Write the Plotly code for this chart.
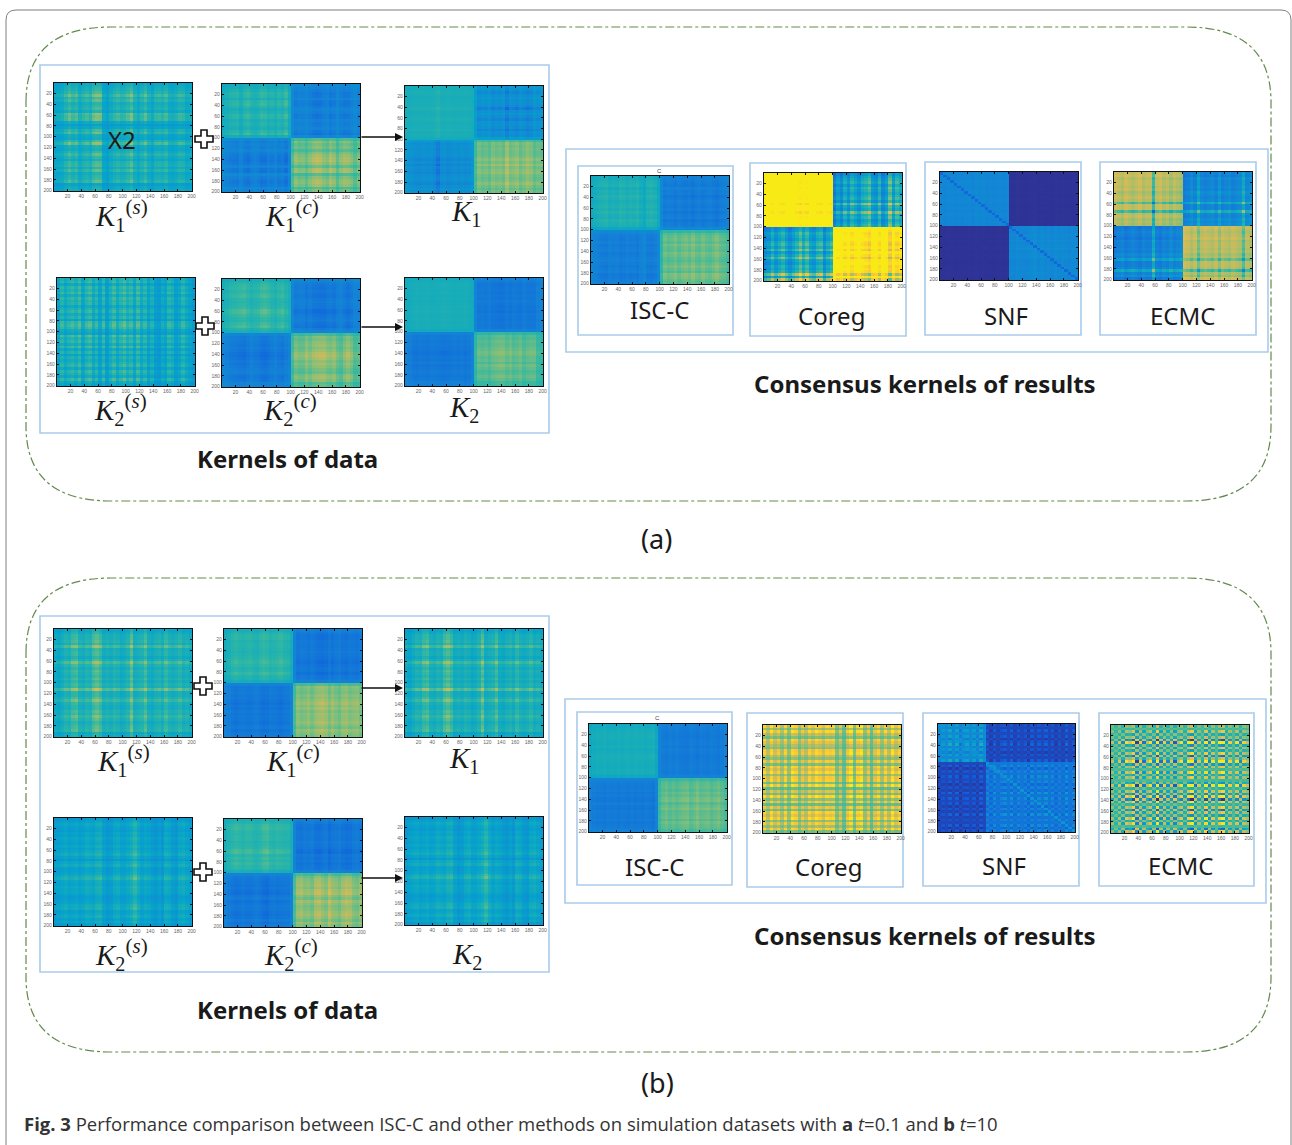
import plotly.graph_objects as go

W, H = 1292, 1145
SAMPLES = list(range(3, 200, 5))
TICKS = list(range(20, 201, 20))
PARULA = ["#352a87", "#0f5cdd", "#1481d6", "#06a4ca", "#2eb7a4", "#87bf77", "#d1bb59", "#fec832", "#f8ea14"]

# stripe readings, tenths, one value per 5 samples
A_K1S_ROW = [-2,0,1,3,8,2,5,0,1,3, -1,8,6,7,-2,-6,-3,3,6,-2, -3,3,9,-1,-2,1,5,1,-2,3, 4,0,5,-1,1,2,5,-5,-2,-1]
A_K1S_COL = [-3,-2,-1,3,7,3,5,-1,2,4, 1,7,9,8,-3,-5,-1,2,4,1, 2,5,9,1,-2,2,6,0,-3,2, 3,1,4,-1,-2,0,3,2,-2,-1]
A_K1C_ROW = [-3,-2,0,3,2,-2,3,4,1,-2, 0,4,3,-1,1,0,-2,2,5,-3, -3,3,0,2,-2,2,5,7,8,5, -1,6,7,-3,2,5,6,4,-3,1]
A_K1C_COL = [-3,-1,1,2,3,-2,3,5,1,-1, 1,5,4,0,2,-1,3,1,6,-3, -3,4,1,2,-1,3,6,8,7,3, 1,7,4,-2,3,6,5,2,-2,2]
A_K1_ROW = [-1,1,4,1,-1,1,1,2,7,1, 0,2,5,1,1,2,5,1,2,-3, -2,3,2,3,2,2,3,6,3,7, 3,5,6,3,2,3,6,3,1,3]
A_K1_COL = [-2,-1,0,1,1,0,1,0,2,7, 1,0,2,1,0,1,0,1,0,-2, -2,4,2,3,1,5,3,4,2,9, 3,4,6,2,4,7,5,1,3,2]
A_K2S_ROW = [1,3,-2,3,1,4,-1,3,1,2, -2,1,3,-1,2,-3,4,5,3,-1, -3,5,1,3,-1,4,-2,2,-3,1, -1,1,3,-2,3,1,-2,4,-1,-3]
A_K2S_COL = [-2,3,-1,2,4,1,5,-2,3,5, -1,3,-3,4,-4,1,5,-1,3,6, 1,4,-2,5,-1,3,-3,1,-4,-5, -1,-3,3,1,-4,-2,3,-1,-3,-5]
A_K2C_ROW = [-3,0,2,3,1,3,4,1,0,1, 2,6,6,3,1,0,3,5,0,-3, -3,2,1,3,4,2,4,7,8,6, 3,5,3,1,0,4,5,3,-2,-1]
A_K2C_COL = [-3,-1,1,2,3,4,5,2,-1,1, 2,5,6,4,1,-1,2,4,0,-3, -3,3,1,1,5,2,5,6,7,7, 4,3,5,1,-1,3,6,3,-2,-1]
A_K2_ROW = [-2,0,3,2,1,3,1,2,0,1, 3,2,4,1,2,3,1,2,1,-3, -3,2,1,3,2,3,4,6,5,3, 4,1,5,3,1,2,4,2,-1,-1]
A_K2_COL = [-3,-1,2,3,1,2,3,1,1,2, 3,4,3,2,1,2,1,3,1,-3, -3,3,2,3,1,4,5,6,6,3, 5,2,3,5,1,3,4,4,-1,-2]
A_ISC_ROW = [0,1,3,4,0,3,2,5,3,1, 3,4,2,5,2,1,5,3,2,-3, -3,1,3,4,2,5,3,2,5,4, 2,1,3,5,3,1,6,5,3,2]
A_ISC_COL = [-2,0,2,3,4,1,2,1,4,3, 1,3,2,4,0,-3,3,4,2,-3, -3,4,2,3,5,2,4,5,3,6, 3,2,5,3,2,4,6,3,2,0]
A_COREG_ROW = [0,1,2,3,1,3,2,1,2,3, 1,6,2,1,6,2,3,1,2,3, 0,1,3,2,1,3,4,2,5,1, 3,6,2,1,3,2,3,9,2,9]
A_COREG_COL = [1,2,5,2,4,6,3,1,3,5, 8,4,7,3,2,5,6,1,4,6, 0,3,1,5,2,6,4,2,5,6, 8,3,2,6,1,3,9,3,7,5]
A_SNF_ROW = [0,1,0,2,1,0,1,2,0,1, 2,1,0,1,0,2,1,0,1,0, 0,1,0,2,1,3,1,2,4,1, 2,3,1,0,1,2,1,2,0,1]
A_SNF_COL = [1,0,2,1,0,1,0,1,2,0, 3,1,2,0,1,0,1,2,0,1, 1,0,2,1,0,1,2,4,1,3, 1,2,0,3,1,2,1,0,2,1]
A_ECMC_ROW = [1,0,2,1,1,2,1,3,2,1, 2,8,1,1,9,2,1,3,2,3, 0,1,2,1,0,2,1,1,2,1, 3,2,7,1,1,2,9,2,4,0]
A_ECMC_COL = [0,1,2,0,1,2,1,0,2,1, 1,9,1,0,2,1,3,1,2,3, 0,1,3,1,7,2,1,2,3,1, 5,1,2,3,1,2,3,9,2,3]

B_K1S_ROW = [-1,0,2,2,3,1,7,1,2,2, 0,2,7,3,1,3,2,1,3,1, 3,2,9,1,1,3,6,2,1,1, 3,2,5,3,1,2,3,4,-1,0]
B_K1S_COL = [0,-1,1,3,2,6,7,2,1,3, 2,7,9,6,1,2,1,3,2,0, 1,3,9,1,2,3,7,1,0,2, 3,1,5,2,1,2,4,1,2,0]
B_K1C_ROW = [-2,0,3,3,1,2,2,1,0,1, 2,4,5,3,1,2,5,1,0,-3, -3,3,2,1,3,2,4,6,3,5, 2,4,3,3,5,3,1,5,3,2]
B_K1C_COL = [-3,-1,2,4,2,1,2,3,1,0, 3,5,4,1,2,3,5,2,1,-3, -3,4,2,3,5,2,5,7,8,6, 2,6,3,1,5,6,3,4,5,2]
B_K2S_ROW = [-1,1,3,1,0,2,1,3,2,1, 3,1,3,5,2,-1,3,5,1,1, 2,5,7,3,2,4,3,3,1,0, 1,2,4,5,1,2,4,1,3,0]
B_K2S_COL = [0,1,2,3,1,2,3,1,2,4, 3,2,5,6,1,-1,0,3,4,1, 1,3,5,9,4,1,3,2,0,-1, 1,-1,4,3,0,-1,3,4,2,0]
B_K2C_ROW = [-2,0,3,4,2,1,2,2,0,1, 2,5,6,1,3,1,4,2,1,-3, -3,1,3,4,5,3,6,7,3,1, 6,4,2,3,5,6,4,1,5,2]
B_K2C_COL = [-3,0,2,4,3,1,3,3,1,0, 2,5,6,2,1,3,2,1,1,-3, -3,4,5,2,3,1,6,7,4,2, 8,4,3,1,5,7,6,2,1,4]
B_ISC_ROW = [-1,0,1,2,3,2,1,1,3,0, 1,3,3,2,1,0,1,2,1,-3, -3,1,2,3,1,4,2,5,6,1, 4,6,2,3,4,1,5,3,2,-1]
B_ISC_COL = [-2,0,2,1,3,1,2,1,3,1, 2,3,1,3,2,3,1,2,4,-3, -3,2,4,1,3,1,3,4,5,1, 3,6,2,3,4,1,3,5,2,-1]
B_COREG_ROW = [2,-5,3,-3,-7,2,-1,-4,-6,1, 2,-3,-6,1,-7,2,-1,3,-5,1, 2,-7,3,-8,-1,-7,3,-6,1,-8, 0,-7,2,-1,3,-6,1,-5,2,-7]
B_COREG_COL = [1,-4,2,-3,0,-5,1,-6,2,0, -6,-1,-4,1,-2,2,0,-3,1,0, 1,-7,-2,-8,-1,3,-7,1,3,-6, -1,-8,-2,1,-5,1,-4,3,-2,1]
B_SNF_ROW = [3,-4,6,-2,5,-7,2,8,-5,3, -6,4,-3,7,-2,5,-8,3,-4,6, -1,4,-7,2,-5,8,-3,6,-2,4, -6,3,-5,7,-4,2,-3,5,-7,3]
B_SNF_COL = [-5,3,-2,7,-4,6,-8,2,5,-3, 4,-6,8,-2,3,-7,5,-4,2,6, -3,7,-5,4,-2,3,-8,6,-4,5, -2,7,-3,4,-6,2,-5,8,-3,4]
B_ECMC_ROW = [1,-2,3,-4,2,-8,9,-5,3,-4, 4,-7,2,9,-6,3,-2,5,-4,3, -2,-5,9,-3,4,-6,7,-9,5,-3, 4,-7,3,-5,6,-4,5,-2,-7,4]
B_ECMC_COL = [1,-3,2,-5,4,2,7,-8,3,-6, 1,4,-5,9,-6,3,-5,2,-7,1, 4,-4,5,9,-6,2,-3,7,-5,4, -2,5,8,-4,3,-2,4,-5,3,1]

# panel: rows, cols, block levels, block stripe gains, block split, additive weight, diagonal levels
PANEL_VALUES = [
    (A_K1S_ROW, A_K1S_COL, [[.40,.40],[.40,.40]], [[.10,.10],[.10,.10]], 20, 1, None),
    (A_K1C_ROW, A_K1C_COL, [[.44,.27],[.27,.54]], [[.08,-.05],[-.05,.09]], 20, 1, None),
    (A_K1_ROW, A_K1_COL, [[.43,.35],[.33,.52]], [[.03,-.08],[-.08,.10]], 20, 1, None),
    (A_K2S_ROW, A_K2S_COL, [[.40,.40],[.40,.40]], [[.14,.14],[.14,.14]], 20, 1, None),
    (A_K2C_ROW, A_K2C_COL, [[.45,.26],[.26,.53]], [[.08,-.05],[-.05,.10]], 20, 1, None),
    (A_K2_ROW, A_K2_COL, [[.42,.25],[.25,.50]], [[.03,-.05],[-.05,.09]], 20, 1, None),
    (A_ISC_ROW, A_ISC_COL, [[.41,.27],[.27,.50]], [[.07,-.05],[-.05,.10]], 20, 1, None),
    (A_COREG_ROW, A_COREG_COL, [[1.15,.18],[.18,1.2]], [[-.14,.30],[.30,-.25]], 20, 1, None),
    (A_SNF_ROW, A_SNF_COL, [[.26,.02],[.02,.26]], [[.05,.01],[.01,.06]], 20, 1, [.17,.17]),
    (A_ECMC_ROW, A_ECMC_COL, [[.78,.20],[.20,.78]], [[-.24,.18],[.18,-.20]], 20, 1, None),
    (B_K1S_ROW, B_K1S_COL, [[.38,.38],[.38,.38]], [[.14,.14],[.14,.14]], 20, 1, None),
    (B_K1C_ROW, B_K1C_COL, [[.44,.25],[.25,.54]], [[.08,-.05],[-.05,.10]], 20, 1, None),
    (B_K1S_ROW, B_K1S_COL, [[.37,.37],[.37,.37]], [[.14,.14],[.14,.14]], 20, 1, None),
    (B_K2S_ROW, B_K2S_COL, [[.32,.32],[.32,.32]], [[.12,.12],[.12,.12]], 20, 1, None),
    (B_K2C_ROW, B_K2C_COL, [[.45,.25],[.25,.54]], [[.08,-.05],[-.05,.11]], 20, 1, None),
    (B_K2S_ROW, B_K2S_COL, [[.32,.32],[.32,.32]], [[.12,.12],[.12,.12]], 20, 1, None),
    (B_ISC_ROW, B_ISC_COL, [[.41,.25],[.25,.52]], [[.05,-.04],[-.04,.08]], 20, 1, None),
    (B_COREG_ROW, B_COREG_COL, [[.82,.82],[.82,.82]], [[.30,.30],[.30,.30]], 20, 1, None),
    (B_SNF_ROW, B_SNF_COL, [[.29,.08],[.08,.22]], [[.15,.09],[.09,.14]], 14, .25, [.30,.33]),
    (B_ECMC_ROW, B_ECMC_COL, [[.56,.56],[.56,.56]], [[.72,.72],[.72,.72]], 20, .15, None),
]

# heatmap rectangles in pixels: left, right, top, bottom
PANEL_RECTS = [
    (54,192,83,191),(222,360,84,192),(405,543,86,193),(57,195,278,386),(222,360,279,387),(405,543,278,386),
    (591,729,176,284),(764,902,173,281),(940,1078,172,280),(1114,1252,172,280),
    (54,192,629,737),(224,362,629,737),(405,543,629,737),(54,192,818,926),(224,362,819,927),(405,543,817,925),
    (589,727,724,832),(763,901,725,833),(938,1075,724,832),(1111,1249,725,833),
]

def build(row, col, levels, gains, split, add, diag):
    table = []
    for i, r in enumerate(row):
        a = 0 if i < split else 1
        line = []
        for j, c in enumerate(col):
            b = 0 if j < split else 1
            v = levels[a][b] + gains[a][b] * (add * (r + c) / 10 + r * c / 100)
            if diag and i == j:
                v = diag[a]
            line.append(round(v, 3))
        table.append(line)
    return table

px = lambda x: x / W
py = lambda y: 1 - y / H

fig = go.Figure()
layout_axes = {}
for n, (vals, rect) in enumerate(zip(PANEL_VALUES, PANEL_RECTS), start=1):
    l, r, t, b = rect
    fig.add_trace(go.Heatmap(x=SAMPLES, y=SAMPLES, z=build(*vals), coloraxis="coloraxis",
                             zsmooth=False, hoverinfo="skip", xaxis=f"x{n}", yaxis=f"y{n}"))
    common = dict(showline=True, linecolor="#111", linewidth=1.4, mirror="ticks", ticks="inside", ticklen=2,
                  tickwidth=0.8, tickcolor="#111", showgrid=False, zeroline=False, tickvals=TICKS,
                  tickfont=dict(size=5, color="#666", family="Liberation Sans"))
    layout_axes[f"xaxis{n}"] = dict(domain=[px(l), px(r)], anchor=f"y{n}", range=[0.5, 200.5], **common)
    layout_axes[f"yaxis{n}"] = dict(domain=[py(b), py(t)], anchor=f"x{n}", range=[200.5, 0.5], **common)

shapes = []
BLUE, GREEN, GREY = "#a9cbea", "#628a4e", "#7f7f7f"

def box(l, r, t, b):
    shapes.append(dict(type="rect", xref="paper", yref="paper", x0=px(l), x1=px(r), y0=py(b), y1=py(t),
                       line=dict(color=BLUE, width=1.6), layer="below"))

for rect in [(40,549,65,433),(566,1268,149,352),(578,733,166,335),(750,906,163,336),(925,1081,162,335),(1100,1256,162,335),
             (40,549,616,972),(565,1266,699,903),(577,732,712,885),(747,903,713,887),(923,1079,713,886),(1099,1254,713,886)]:
    box(*rect)

def rounded(l, r, t, b):
    R, S = 85, 75
    pts = [f"M{px(l)},{py(t+S)}", f"Q{px(l)},{py(t)} {px(l+R)},{py(t)}", f"L{px(r-R)},{py(t)}",
           f"Q{px(r)},{py(t)} {px(r)},{py(t+S)}", f"L{px(r)},{py(b-S)}", f"Q{px(r)},{py(b)} {px(r-R)},{py(b)}",
           f"L{px(l+R)},{py(b)}", f"Q{px(l)},{py(b)} {px(l)},{py(b-S)}", "Z"]
    shapes.append(dict(type="path", xref="paper", yref="paper", path=" ".join(pts),
                       line=dict(color=GREEN, width=1.2, dash="dashdot"), layer="below"))

rounded(26, 1271, 27, 501)
rounded(26, 1271, 578, 1052)

shapes.append(dict(type="path", xref="paper", yref="paper", layer="below", line=dict(color=GREY, width=1),
                   path=f"M{px(6)},{py(1145)} L{px(6)},{py(20)} Q{px(6)},{py(10)} {px(16)},{py(10)} "
                        f"L{px(1281)},{py(10)} Q{px(1291)},{py(10)} {px(1291)},{py(20)} L{px(1291)},{py(1145)}"))

def plus(cx, cy, a=9, c=3):
    p = [(-c,-a),(c,-a),(c,-c),(a,-c),(a,c),(c,c),(c,a),(-c,a),(-c,c),(-a,c),(-a,-c),(-c,-c)]
    path = "M" + " L".join(f"{px(cx+x)},{py(cy+y)}" for x, y in p) + " Z"
    shapes.append(dict(type="path", xref="paper", yref="paper", path=path, fillcolor="white",
                       line=dict(color="#111", width=1.6), layer="above"))

for c in [(204,139),(205,326),(203,686),(203,872)]:
    plus(*c)

ann = []
def text(x, y, s, size, color="#1a1a1a", family="Noto Sans", xanchor="center"):
    ann.append(dict(xref="paper", yref="paper", x=px(x), y=py(y), text=s, showarrow=False, xanchor=xanchor,
                    yanchor="middle", font=dict(size=size, color=color, family=family)))

def kernel(i, kind=""):
    sup = f"<sup><span style='font-size:21px'>(<i>{kind}</i>)</span></sup>" if kind else ""
    return f"<i>K</i><sub>{i}</sub>{sup}"

SERIF = "Liberation Serif"
for x, y, s in [(122,215,kernel(1,"s")),(292,215,kernel(1,"c")),(466,213,kernel(1)),
                (120,410,kernel(2,"s")),(290,410,kernel(2,"c")),(464,409,kernel(2)),
                (123,760,kernel(1,"s")),(293,760,kernel(1,"c")),(464,760,kernel(1)),
                (121,955,kernel(2,"s")),(291,955,kernel(2,"c")),(467,956,kernel(2))]:
    text(x, y, s, 29, family=SERIF)

for x, y, s in [(659,310,"ISC-C"),(831,316,"Coreg"),(1006,315,"SNF"),(1182,315,"ECMC"),
                (654,866,"ISC-C"),(828,866,"Coreg"),(1004,865,"SNF"),(1180,865,"ECMC")]:
    text(x, y, s, 24)

text(122, 139, "X2", 24)
text(659, 171, "C", 6, color="#444", family="Liberation Sans")
text(657, 718, "C", 6, color="#444", family="Liberation Sans")
for y in (458, 1009):
    text(287, y, "<b>Kernels of data</b>", 24)
for y in (384, 935):
    text(925, y, "<b>Consensus kernels of results</b>", 24)
text(656, 538, "(a)", 27)
text(657, 1082, "(b)", 27)
text(22, 1123, "<b>Fig. 3</b> Performance comparison between ISC-C and other methods on simulation datasets with <b>a</b> <i>t</i>=0.1 and <b>b</b> <i>t</i>=10",
     18.5, color="#333", family="Open Sans", xanchor="left")

for y in (137, 327, 688, 878):
    ann.append(dict(xref="paper", yref="paper", x=px(403), y=py(y), ax=-43, ay=0, text="", showarrow=True,
                    arrowhead=2, arrowsize=1, arrowwidth=1.6, arrowcolor="#111"))

fig.update_layout(width=W, height=H, margin=dict(l=0, r=0, t=0, b=0, pad=0, autoexpand=False), paper_bgcolor="white", plot_bgcolor="white",
                  showlegend=False, shapes=shapes, annotations=ann,
                  coloraxis=dict(colorscale=[[i / 8, c] for i, c in enumerate(PARULA)], cmin=0, cmax=1, showscale=False),
                  **layout_axes)
fig.write_html("out.html", config={"displayModeBar": False},
               post_script="document.body.style.margin='0';document.documentElement.style.overflow='hidden';")
